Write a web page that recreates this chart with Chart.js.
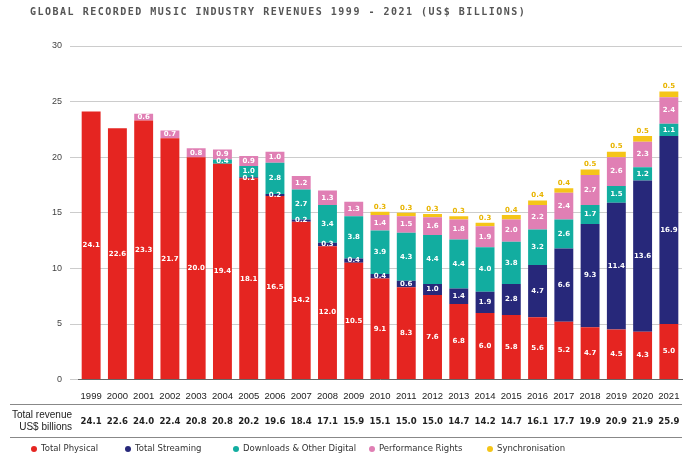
<!DOCTYPE html>
<html>
<head>
<meta charset="utf-8">
<script src="https://cdn.jsdelivr.net/npm/chart.js@4"></script>
<style>
  body { margin: 0; background: #fff; }
  #wrap { position: relative; width: 692px; height: 467px; }
  #title { position: absolute; left: 30px; top: 6px; font: bold 10px "DejaVu Sans Mono", monospace; letter-spacing: 1.5px; color: #555; }
</style>
</head>
<body>
<div id="wrap">
  <div id="title">GLOBAL RECORDED MUSIC INDUSTRY REVENUES 1999 - 2021 (US$ BILLIONS)</div>
  <canvas id="chart" width="692" height="467"></canvas>
</div>
<script>
const years = ["1999","2000","2001","2002","2003","2004","2005","2006","2007","2008","2009","2010","2011","2012","2013","2014","2015","2016","2017","2018","2019","2020","2021"];
const physical = [24.1,22.6,23.3,21.7,20.0,19.4,18.1,16.5,14.2,12.0,10.5,9.1,8.3,7.6,6.8,6.0,5.8,5.6,5.2,4.7,4.5,4.3,5.0];
const streaming = [0,0,0,0,0,0,0.1,0.2,0.2,0.3,0.4,0.4,0.6,1.0,1.4,1.9,2.8,4.7,6.6,9.3,11.4,13.6,16.9];
const downloads = [0,0,0,0,0,0.4,1.0,2.8,2.7,3.4,3.8,3.9,4.3,4.4,4.4,4.0,3.8,3.2,2.6,1.7,1.5,1.2,1.1];
const performance = [0,0,0.6,0.7,0.8,0.9,0.9,1.0,1.2,1.3,1.3,1.4,1.5,1.6,1.8,1.9,2.0,2.2,2.4,2.7,2.6,2.3,2.4];
const sync = [0,0,0,0,0,0,0,0,0,0,0,0.3,0.3,0.3,0.3,0.3,0.4,0.4,0.4,0.5,0.5,0.5,0.5];
const totals = ["24.1","22.6","24.0","22.4","20.8","20.8","20.2","19.6","18.4","17.1","15.9","15.1","15.0","15.0","14.7","14.2","14.7","16.1","17.7","19.9","20.9","21.9","25.9"];
const yTicks = [0,5,10,15,20,25,30];

const colors = ["#e52521", "#27287a", "#12ada0", "#e07fb4", "#f5c518"];
const names = ["Total Physical", "Total Streaming", "Downloads & Other Digital", "Performance Rights", "Synchronisation"];
const series = [physical, streaming, downloads, performance, sync];

const extras = {
  id: "extras",
  afterDatasetsDraw(chart) {
    const ctx = chart.ctx;
    ctx.save();
    ctx.textAlign = "center";
    ctx.textBaseline = "middle";
    ctx.font = "bold 7px 'DejaVu Sans'";
    chart.data.datasets.forEach((ds, i) => {
      chart.getDatasetMeta(i).data.forEach((bar, j) => {
        const v = ds.data[j];
        if (!v) return;
        if (i === 4) {
          ctx.fillStyle = "#e8b400";
          ctx.fillText(v.toFixed(1), bar.x, bar.y - 5);
        } else {
          ctx.fillStyle = "#fff";
          ctx.fillText(v.toFixed(1), bar.x, (bar.y + bar.base) / 2);
        }
      });
    });
    // totals table
    const x = chart.scales.x;
    ctx.strokeStyle = "#888";
    ctx.lineWidth = 1;
    ctx.beginPath();
    ctx.moveTo(10, 404.5); ctx.lineTo(682, 404.5);
    ctx.moveTo(10, 437.5); ctx.lineTo(682, 437.5);
    ctx.stroke();
    ctx.fillStyle = "#222";
    ctx.font = "10px 'Liberation Sans Narrow', 'Liberation Sans'";
    ctx.textAlign = "right";
    ctx.fillText("Total revenue", 72, 415);
    ctx.fillText("US$ billions", 72, 427);
    ctx.textAlign = "center";
    ctx.font = "bold 9.5px 'DejaVu Sans Condensed'";
    totals.forEach((t, j) => ctx.fillText(t, x.getPixelForValue(j), 422));
    // legend
    const lx = [34, 128, 236, 372, 490];
    ctx.font = "8.5px 'DejaVu Sans'";
    ctx.textAlign = "left";
    names.forEach((n, i) => {
      ctx.fillStyle = colors[i];
      ctx.beginPath();
      ctx.arc(lx[i], 449, 3, 0, Math.PI * 2);
      ctx.fill();
      ctx.fillStyle = "#333";
      ctx.fillText(n, lx[i] + 7, 449);
    });
    ctx.restore();
  }
};

new Chart(document.getElementById("chart"), {
  type: "bar",
  data: {
    labels: years,
    datasets: series.map((d, i) => ({
      label: names[i],
      data: d,
      backgroundColor: colors[i],
      barPercentage: 0.72,
      categoryPercentage: 1.0
    }))
  },
  options: {
    responsive: false,
    animation: false,
    layout: { padding: { top: 46, right: 10, bottom: 62, left: 44 } },
    plugins: { legend: { display: false }, tooltip: { enabled: false } },
    scales: {
      x: {
        stacked: true,
        grid: { display: false },
        border: { color: "#666" },
        ticks: { color: "#222", font: { size: 9.5, family: "'Liberation Sans Narrow', 'Liberation Sans'" }, maxRotation: 0, autoSkip: false }
      },
      y: {
        stacked: true,
        min: 0,
        max: 30,
        afterBuildTicks(axis) { axis.ticks = yTicks.map(v => ({ value: v })); },
        grid: { color: "#ccc" },
        border: { display: false },
        ticks: { color: "#444", font: { size: 9 }, padding: 8 }
      }
    }
  },
  plugins: [extras]
});
</script>
</body>
</html>
